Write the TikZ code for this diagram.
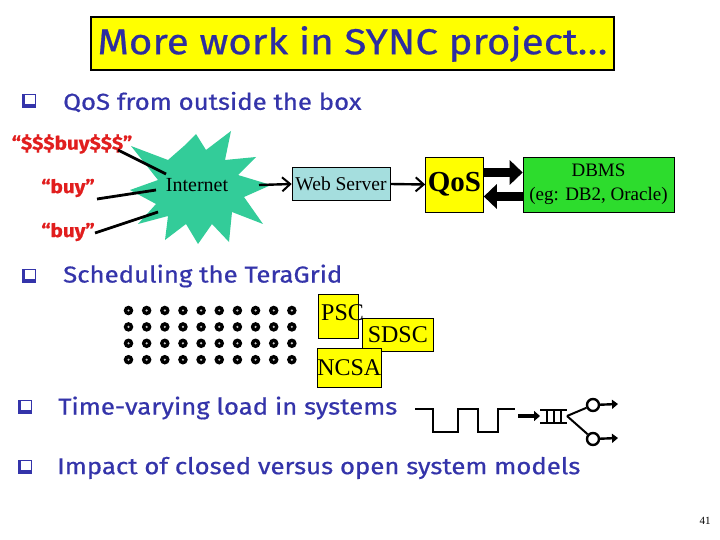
\documentclass[tikz,border=0pt]{standalone}
\usepackage{fontspec}
\setmainfont{Liberation Serif}
\newfontfamily\comic[FakeStretch=1.12,FakeBold=0.6]{Fira Sans}
\usetikzlibrary{arrows.meta}
\definecolor{txtblue}{RGB}{52,52,170}
\definecolor{ttlblue}{RGB}{45,45,160}
\definecolor{buyred}{RGB}{225,30,30}
\definecolor{burst}{RGB}{51,204,153}
\definecolor{wscyan}{RGB}{165,222,222}
\definecolor{dbgreen}{RGB}{45,220,45}
\definecolor{qyellow}{RGB}{255,255,0}
\tikzset{
  bullettext/.style={anchor=west, inner sep=0pt, text=txtblue, font=\comic\fontsize{23}{25}\selectfont},
  buytext/.style={inner sep=0pt, text=buyred, font=\comic\bfseries\fontsize{18.5}{20}\selectfont},
  feed/.style={line width=2.8pt},
  thinarrow/.style={line width=2.4pt, -{Straight Barb[length=8pt,width=14pt,line width=2pt]}},
  fatarrow/.style={line width=9pt, -{Triangle[length=13pt,width=24pt]}},
  sitebox/.style={draw=black, fill=qyellow, line width=0.6pt, inner sep=0pt, font=\fontsize{24}{26}\selectfont},
  qline/.style={line width=2.6pt, line cap=butt, line join=miter},
}
\newcommand{\bulletbox}[2]{%
  \fill[txtblue] (#1,#2) rectangle ++(13,13);
  \fill[white] (#1+3,#2) rectangle ++(10,10);
  \draw[txtblue, line width=0.8pt] (#1,#2) rectangle ++(13,13);
}
\begin{document}
\begin{tikzpicture}[x=1pt,y=-1pt]
\useasboundingbox (0,0) rectangle (720,540);
\fill[white] (0,0) rectangle (720,540);

% title
\node[draw=black, line width=1.5pt, fill=qyellow, minimum width=523pt, minimum height=53pt, inner sep=0pt] (title) at (352.5,43.5) {};
\node[text=ttlblue, font=\comic\fontsize{36}{38}\selectfont, inner sep=0pt] (titletext) at (352.5,44) {More work in SYNC project…};

% bullets
\bulletbox{22}{94}
\node[bullettext] (b1) at (63,102) {QoS from outside the box};
\bulletbox{22}{269}
\node[bullettext] (b2) at (63,276) {Scheduling the TeraGrid};
\bulletbox{18}{400}
\node[bullettext] (b3) at (58,408) {Time-varying load in systems};
\bulletbox{18}{460}
\node[bullettext] (b4) at (57,468) {Impact of closed versus open system models};

% buy labels
\node[buytext] (buy1) at (72,144) {“\$\$\$buy\$\$\$”};
\node[buytext] (buy2) at (68,188) {“buy”};
\node[buytext] (buy3) at (68,232) {“buy”};

% internet starburst
\fill[burst] (131,146) -- (168,160) -- (184,146) -- (196,134) -- (206,150) -- (231,131)
  -- (225,160) -- (256,157) -- (238,175) -- (271,185) -- (244,197) -- (263,224)
  -- (232,212) -- (229,242) -- (212,224) -- (198,244) -- (186,224) -- (165,240)
  -- (168,216) -- (138,224) -- (156,204) -- (130,190) -- (158,180) -- cycle;
\node[font=\fontsize{20}{22}\selectfont, inner sep=0pt] (inet) at (197,185) {Internet};
\coordinate (in1) at (166,174);
\coordinate (in2) at (156,190);
\coordinate (in3) at (158,212);
\draw[feed] (118,150) -- (in1);
\draw[feed] (97,199) -- (in2);
\draw[feed] (95,233) -- (in3);

% web server / qos / dbms
\node[draw=black, fill=wscyan, line width=0.6pt, minimum width=98pt, minimum height=33pt, inner sep=0pt, font=\fontsize{19.5}{21}\selectfont] (ws) at (341,184) {Web Server};
\node[draw=black, fill=qyellow, line width=0.6pt, minimum width=58pt, minimum height=55pt, inner sep=0pt, font=\bfseries\fontsize{29}{31}\selectfont] (qos) at (454.5,184.5) {QoS};
\node[draw=black, fill=dbgreen, line width=0.6pt, minimum width=151pt, minimum height=55pt, inner sep=0pt, align=center, font=\fontsize{19}{24}\selectfont] (db) at (598.5,184.5) {DBMS\\(eg: DB2, Oracle)};
\coordinate (inr) at (259,185);
\draw[thinarrow] (inr) -- (ws.west);
\draw[thinarrow] (ws.east) -- (qos.west);
\draw[fatarrow] ([yshift=12pt]qos.east) -- ([yshift=12pt]db.west);
\draw[fatarrow] ([yshift=-12pt]db.west) -- ([yshift=-12pt]qos.east);

% grid of nodes
\foreach \i in {0,...,9}{
  \foreach \j in {0,...,3}{
    \fill[black] (128.5+18.15*\i, 310.5+16.4*\j) circle (4.8);
    \fill[white!60!gray] (128.5+18.15*\i, 310.5+16.4*\j) circle (1.2);
  }
}
\node[sitebox, minimum width=40pt, minimum height=44pt, anchor=north west] (psc) at (318,294) {};
\node[font=\fontsize{24}{26}\selectfont, inner sep=0pt, anchor=north west] (psct) at (321,304) {PSC};
\node[sitebox, minimum width=71pt, minimum height=33pt, anchor=north west] (sdsc) at (362,318) {SDSC};
\node[sitebox, minimum width=61pt, minimum height=39pt, anchor=north west] (ncsa) at (317,348) {NCSA};

% time varying load
\draw[qline] (415,409) -- (433,409) -- (433,432) -- (458,432) -- (458,409) -- (478,409)
  -- (478,432) -- (498,432) -- (498,409) -- (515,409);
\coordinate (qa) at (518,416);
\coordinate (qb) at (540,416);
\draw[line width=4pt, -{Triangle[length=6pt,width=10pt]}] (qa) -- (qb);
\draw[line width=1.8pt] (540,410) -- (567,410) (540,423) -- (567,423)
  (547,410) -- (547,423) (554,410) -- (554,423) (561,410) -- (561,423);
\coordinate (srv) at (567,416);
\node[circle, draw=black, line width=2.4pt, minimum size=12pt, inner sep=0pt] (o1) at (593,405) {};
\node[circle, draw=black, line width=2.4pt, minimum size=12pt, inner sep=0pt] (o2) at (593,439) {};
\draw[line width=2pt] (srv) -- (o1);
\draw[line width=2pt] (srv) -- (o2);
\coordinate (e1) at (618,404);
\coordinate (e2) at (618,438);
\draw[line width=2.4pt, -{Triangle[length=6pt,width=9pt]}] (o1) -- (e1);
\draw[line width=2.4pt, -{Triangle[length=6pt,width=9pt]}] (o2) -- (e2);

% page number
\node[font=\fontsize{11}{12}\selectfont, inner sep=0pt] (pg) at (705,521) {41};
\end{tikzpicture}
\end{document}
